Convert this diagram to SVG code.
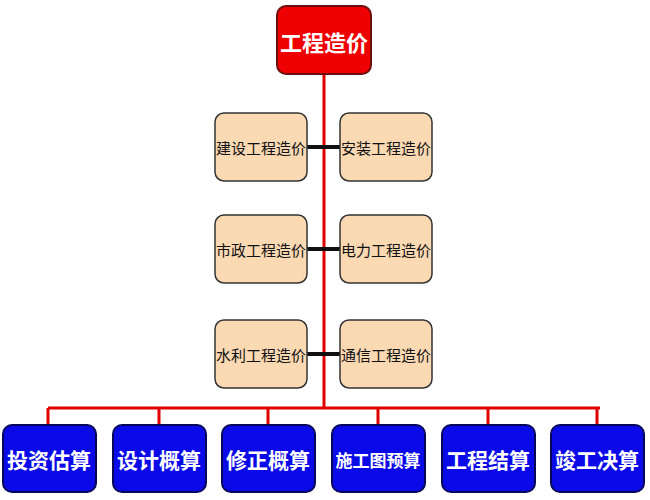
<svg xmlns="http://www.w3.org/2000/svg" width="650" height="500" viewBox="0 0 650 500">
<style>
.top{fill:#ee0000;stroke:#6b1010;stroke-width:2}
.mid{fill:#fbd9b3;stroke:#333;stroke-width:1.5}
.bot{fill:#0a0ae8;stroke:#08085a;stroke-width:2}
.tw{font-family:"Noto Sans CJK SC",sans-serif;font-weight:bold;fill:#fff;text-anchor:middle;dominant-baseline:central}
.tm{font-family:"Noto Sans CJK SC",sans-serif;fill:#111;font-size:15px;text-anchor:middle;dominant-baseline:central}
.red{stroke:#e00000;stroke-width:3;fill:none}
.blk{stroke:#111;stroke-width:4}
</style>
<g id="connectors">
<path class="red" d="M324 74V408M48 408H600M48 408V425M159 408V425M268 408V425M378 408V425M488 408V425M597 408V425"/>
<path class="blk" d="M307 147H340M307 249H340M307 354H340"/>
</g>
<g id="root"><rect class="top" x="277" y="6" width="94" height="68" rx="9"/><text class="tw" x="324" y="41" font-size="22">工程造价</text></g>
<g id="n1"><rect class="mid" x="215" y="113" width="92" height="68" rx="9"/><text class="tm" x="261" y="147">建设工程造价</text></g>
<g id="n2"><rect class="mid" x="340" y="113" width="92" height="68" rx="9"/><text class="tm" x="386" y="147">安装工程造价</text></g>
<g id="n3"><rect class="mid" x="215" y="215" width="92" height="68" rx="9"/><text class="tm" x="261" y="249">市政工程造价</text></g>
<g id="n4"><rect class="mid" x="340" y="215" width="92" height="68" rx="9"/><text class="tm" x="386" y="249">电力工程造价</text></g>
<g id="n5"><rect class="mid" x="215" y="320" width="92" height="68" rx="9"/><text class="tm" x="261" y="354">水利工程造价</text></g>
<g id="n6"><rect class="mid" x="340" y="320" width="92" height="68" rx="9"/><text class="tm" x="386" y="354">通信工程造价</text></g>
<g id="b1"><rect class="bot" x="3" y="425" width="93" height="67" rx="9"/><text class="tw" x="49" y="459" font-size="21">投资估算</text></g>
<g id="b2"><rect class="bot" x="113" y="425" width="93" height="67" rx="9"/><text class="tw" x="159" y="459" font-size="21">设计概算</text></g>
<g id="b3"><rect class="bot" x="222" y="425" width="93" height="67" rx="9"/><text class="tw" x="268" y="459" font-size="21">修正概算</text></g>
<g id="b4"><rect class="bot" x="332" y="425" width="93" height="67" rx="9"/><text class="tw" x="378" y="459" font-size="17">施工图预算</text></g>
<g id="b5"><rect class="bot" x="442" y="425" width="93" height="67" rx="9"/><text class="tw" x="488" y="459" font-size="21">工程结算</text></g>
<g id="b6"><rect class="bot" x="551" y="425" width="93" height="67" rx="9"/><text class="tw" x="597" y="459" font-size="21">竣工决算</text></g>
</svg>
